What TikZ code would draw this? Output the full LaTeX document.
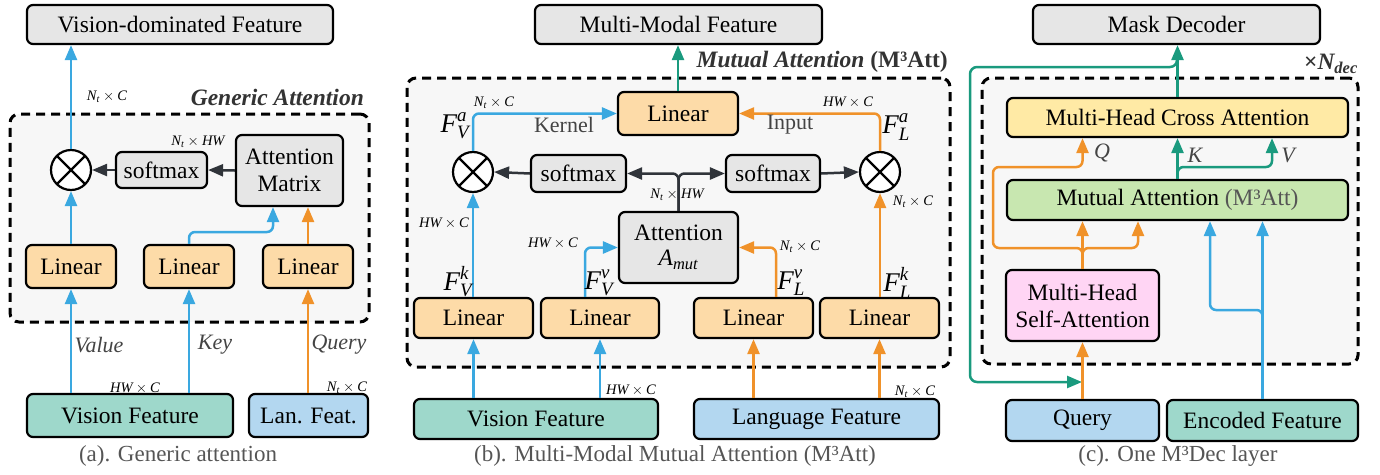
\documentclass[tikz,border=0pt]{standalone}
\usepackage{fontspec}
\setmainfont{Liberation Serif}
\usepackage{amsmath}
\usetikzlibrary{arrows.meta,calc}

\definecolor{lnblue}{HTML}{3AA8E0}
\definecolor{lnorange}{HTML}{F0922A}
\definecolor{lnteal}{HTML}{1A9A7E}
\definecolor{lndark}{HTML}{30343A}
\definecolor{fgray}{HTML}{E6E6E6}
\definecolor{fbg}{HTML}{F7F7F7}
\definecolor{fpeach}{HTML}{FDDBA8}
\definecolor{fteal}{HTML}{9ED8CB}
\definecolor{fblue}{HTML}{B3D7F0}
\definecolor{fyellow}{HTML}{FFEAA5}
\definecolor{fgreen}{HTML}{C8E7B0}
\definecolor{fpink}{HTML}{FFD5F4}
\definecolor{txtgray}{HTML}{444444}
\definecolor{capgray}{HTML}{555555}
\definecolor{ttlgray}{HTML}{333333}

\newcommand\mi[1]{\textit{#1}}
\newcommand\dimNC{$\mi{N}_{\mi{t}}\times\mi{C}$}
\newcommand\dimHC{$\mi{HW}\times\mi{C}$}
\newcommand\dimNH{$\mi{N}_{\mi{t}}\times\mi{HW}$}
\newcommand\feat[2]{$\mi{F}^{\mi{#1}}_{\mi{#2}}$}

\tikzset{
  box/.style={draw=black, line width=2.2pt, rounded corners=6pt, inner sep=0pt,
    align=center, font=\fontsize{23.5}{27}\selectfont},
  dashbox/.style={draw=black, fill=fbg, line width=3pt, dash pattern=on 9pt off 6pt,
    rounded corners=9pt, inner sep=0pt},
  otimes/.style={circle, draw=black, line width=2.2pt, fill=white, minimum size=40pt,
    inner sep=0pt, path picture={\draw[line width=2.2pt]
      (path picture bounding box.north west) -- (path picture bounding box.south east)
      (path picture bounding box.north east) -- (path picture bounding box.south west);}},
  conn/.style={line width=2.5pt, -{Triangle[length=15pt,width=12pt]}, rounded corners=6pt},
  blc/.style={conn, draw=lnblue},
  orc/.style={conn, draw=lnorange},
  tlc/.style={conn, draw=lnteal},
  dkc/.style={conn, draw=lndark},
  dimlab/.style={inner sep=0pt, font=\fontsize{14.5}{16}\selectfont},
  flab/.style={inner sep=0pt, font=\fontsize{27}{29}\selectfont},
  wlab/.style={inner sep=0pt, text=txtgray, font=\fontsize{22}{25}\selectfont\itshape},
  plab/.style={inner sep=0pt, text=txtgray, font=\fontsize{22}{25}\selectfont},
  caption/.style={inner sep=0pt, text=capgray, font=\fontsize{23}{27}\selectfont},
  ttl/.style={inner sep=0pt, text=ttlgray, font=\fontsize{23.5}{27}\selectfont\bfseries},
}

\begin{document}
\begin{tikzpicture}[x=1pt, y=-1pt]
\useasboundingbox (0,0) rectangle (1380,474);

% ---------------- (a) generic attention ----------------
\node[dashbox, minimum width=359pt, minimum height=208pt] (gA) at (189.5,218) {};
\node[ttl, anchor=east] (tA) at (364,97) {\itshape Generic Attention};

\node[box, fill=fgray, minimum width=306pt, minimum height=39pt] (vdf) at (180,24.5) {Vision-dominated Feature};
\node[otimes] (otA) at (71,170) {};
\node[box, fill=fgray, minimum width=91pt, minimum height=36pt] (smA) at (161.5,170) {softmax};
\node[box, fill=fgray, minimum width=107pt, minimum height=71pt] (amA) at (289.5,170.5) {Attention\\Matrix};
\node[box, fill=fpeach, minimum width=90pt, minimum height=43pt] (linA1) at (71,266.5) {Linear};
\node[box, fill=fpeach, minimum width=90pt, minimum height=43pt] (linA2) at (189,266.5) {Linear};
\node[box, fill=fpeach, minimum width=90pt, minimum height=43pt] (linA3) at (308,266.5) {Linear};
\node[box, fill=fteal, minimum width=206pt, minimum height=43pt] (vfA) at (130,415.5) {Vision Feature};
\node[box, fill=fblue, minimum width=119pt, minimum height=43pt] (lfA) at (308.5,415.5) {Lan. Feat.};

\draw[blc] (otA.north) -- (otA.north |- vdf.south);
\draw[dkc] (amA.west) -- (smA.east);
\draw[dkc] (smA.west) -- (otA.east);
\draw[blc] (linA1.north) -- (otA.south);
\coordinate (kA) at (273,232);
\draw[blc] (linA2.north) |- (kA) -- (kA |- amA.south);
\draw[orc] (linA3.north) -- (linA3.north |- amA.south);
\draw[blc] (linA1.south |- vfA.north) -- (linA1.south);
\draw[blc] (linA2.south |- vfA.north) -- (linA2.south);
\draw[orc] (linA3.south |- lfA.north) -- (linA3.south);

\node[dimlab] (dA1) at (107,97) {\dimNC};
\node[dimlab] (dA2) at (198,142) {\dimNH};
\node[dimlab] (dA3) at (135,388) {\dimHC};
\node[dimlab] (dA4) at (347,388) {\dimNC};
\node[wlab] (wVal) at (99,345) {Value};
\node[wlab] (wKey) at (215,345) {Key};
\node[wlab] (wQry) at (339,345) {Query};
\node[caption] (capA) at (178,456) {(a). Generic attention};

% ---------------- (b) multi-modal mutual attention ----------------
\node[dashbox, minimum width=543pt, minimum height=289pt] (gB) at (678.5,222.5) {};
\node[ttl, anchor=east] (tB) at (948,62) {\itshape Mutual Attention \upshape(M³Att)};

\node[box, fill=fgray, minimum width=287pt, minimum height=39pt] (mmf) at (678.5,24.5) {Multi-Modal Feature};
\node[box, fill=fpeach, minimum width=120pt, minimum height=43pt] (linT) at (678,113.5) {Linear};
\node[otimes] (otL) at (473,172) {};
\node[otimes] (otR) at (880,172) {};
\node[box, fill=fgray, minimum width=95pt, minimum height=37pt] (smL) at (578.5,173.5) {softmax};
\node[box, fill=fgray, minimum width=94pt, minimum height=37pt] (smR) at (773,173.5) {softmax};
\node[box, fill=fgray, minimum width=119pt, minimum height=71pt] (attB) at (678.5,247.5) {Attention\\[-2pt]$\mi{A}_{\mi{mut}}$};
\node[box, fill=fpeach, minimum width=119pt, minimum height=40pt] (linB1) at (473.5,318) {Linear};
\node[box, fill=fpeach, minimum width=118pt, minimum height=40pt] (linB2) at (600,318) {Linear};
\node[box, fill=fpeach, minimum width=119pt, minimum height=40pt] (linB3) at (753.5,318) {Linear};
\node[box, fill=fpeach, minimum width=119pt, minimum height=40pt] (linB4) at (879.5,318) {Linear};
\node[box, fill=fteal, minimum width=244pt, minimum height=40pt] (vfB) at (536,419) {Vision Feature};
\node[box, fill=fblue, minimum width=245pt, minimum height=40pt] (lfB) at (816.5,419) {Language Feature};

\draw[tlc] (linT.north) -- (linT.north |- mmf.south);
\draw[dkc] (attB.north) |- (smL.east);
\draw[dkc] (attB.north) |- (smR.west);
\draw[dkc] (smL.west) -- (otL.east);
\draw[dkc] (smR.east) -- (otR.west);
\draw[blc] (otL.north) |- (linT.west);
\draw[orc] (otR.north) |- (linT.east);
\draw[blc] (linB1.north -| otL.south) -- (otL.south);
\draw[orc] (linB4.north -| otR.south) -- (otR.south);
\draw[blc] ($(linB2.north)+(-15,0)$) |- (attB.west);
\draw[orc] ($(linB3.north)+(22.5,0)$) |- (attB.east);
\draw[blc] (linB1.south |- vfB.north) -- (linB1.south);
\draw[blc] (linB2.south |- vfB.north) -- (linB2.south);
\draw[orc] (linB3.south |- lfB.north) -- (linB3.south);
\draw[orc] (linB4.south |- lfB.north) -- (linB4.south);

\node[flab] (fVa) at (455,126) {\feat{a}{V}};
\node[flab] (fLa) at (896,127) {\feat{a}{L}};
\node[flab] (fVk) at (458,282) {\feat{k}{V}};
\node[flab] (fVv) at (599,283) {\feat{v}{V}};
\node[flab] (fLv) at (791,283) {\feat{v}{L}};
\node[flab] (fLk) at (897,283) {\feat{k}{L}};
\node[dimlab] (dB1) at (494,103) {\dimNC};
\node[dimlab] (dB2) at (848,102) {\dimHC};
\node[dimlab] (dB3) at (444,223) {\dimHC};
\node[dimlab] (dB4) at (553,243) {\dimHC};
\node[dimlab] (dB5) at (800,247) {\dimNC};
\node[dimlab] (dB6) at (913,202) {\dimNC};
\node[dimlab] (dB7) at (631,390) {\dimHC};
\node[dimlab] (dB8) at (915,392) {\dimNC};
\node[dimlab] (dB9) at (677,195) {\dimNH};
\node[plab] (kern) at (564,125) {Kernel};
\node[plab] (inpt) at (790,125) {Input};
\node[caption] (capB) at (675,456) {(b). Multi-Modal Mutual Attention (M³Att)};

% ---------------- (c) one decoder layer ----------------
\node[dashbox, minimum width=376pt, minimum height=286pt] (gC) at (1170,221) {};
\node[ttl, anchor=east] (tC) at (1358,64) {×\itshape N\textsubscript{dec}};

\node[box, fill=fgray, minimum width=287pt, minimum height=39pt] (md) at (1176.5,24.5) {Mask Decoder};
\node[box, fill=fyellow, minimum width=341pt, minimum height=39pt] (mhca) at (1177.5,117.5) {Multi-Head Cross Attention};
\node[box, fill=fgreen, minimum width=341pt, minimum height=40pt] (ma) at (1177.5,200) {Mutual Attention {\color{capgray}(M³Att)}};
\node[box, fill=fpink, minimum width=153pt, minimum height=71pt] (mhsa) at (1082.5,305.5) {Multi-Head\\Self-Attention};
\node[box, fill=fblue, minimum width=153pt, minimum height=41pt] (query) at (1082.5,420.5) {Query};
\node[box, fill=fteal, minimum width=191pt, minimum height=41pt] (enc) at (1262.5,420.5) {Encoded Feature};

\draw[tlc] (mhca.north) -- (mhca.north |- md.south);
\coordinate (lpA) at (1177,55);
\coordinate (lpB) at (970,67);
\coordinate (lpC) at (1082,382);
\draw[tlc, rounded corners=7pt] (lpA) |- (lpB) |- (lpC);
\draw[tlc] (ma.north) -- (ma.north |- mhca.south);
\coordinate (vK) at (1272,167);
\draw[tlc] (ma.north) |- (vK) -- (vK |- mhca.south);
\coordinate (qL) at (993,248);
\coordinate (qT) at (993,167);
\coordinate (qR) at (1138,248);
\draw[orc] (mhsa.north) |- (qL) -- (qT) -| (mhsa.north |- mhca.south);
\draw[orc] (mhsa.north) |- (qR) -- (qR |- ma.south);
\draw[orc] (mhsa.north) -- (mhsa.north |- ma.south);
\coordinate (eB) at (1210,310);
\draw[blc] (enc.north) |- (eB) -- (eB |- ma.south);
\draw[blc] (enc.north) -- (enc.north |- ma.south);
\draw[orc] (query.north) -- (mhsa.south);

\node[wlab] (lQ) at (1102,153) {Q};
\node[wlab] (lK) at (1195,155) {K};
\node[wlab] (lV) at (1288,155) {V};
\node[caption] (capC) at (1178,456) {(c). One M³Dec layer};
\end{tikzpicture}
\end{document}
